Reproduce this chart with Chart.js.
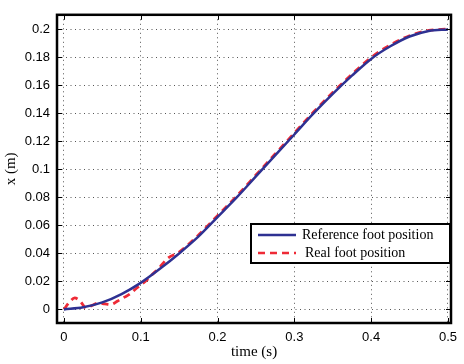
<!DOCTYPE html>
<html>
<head>
<meta charset="utf-8">
<script src="https://cdn.jsdelivr.net/npm/chart.js@4/dist/chart.umd.min.js"></script>
<style>
  html, body { margin: 0; padding: 0; background: #fff; }
  #wrap { width: 464px; height: 364px; }
</style>
</head>
<body>
<div id="wrap"><canvas id="c" width="464" height="364"></canvas></div>
<script>
// values
var refTime = [0, 0.025, 0.05, 0.075, 0.1, 0.125, 0.15, 0.175, 0.2, 0.225, 0.25,
               0.275, 0.3, 0.325, 0.35, 0.375, 0.4, 0.425, 0.45, 0.475, 0.5];
var refPos  = [0, 0.0015, 0.005, 0.011, 0.019, 0.029, 0.040, 0.052, 0.066, 0.080, 0.095,
               0.110, 0.125, 0.140, 0.154, 0.167, 0.179, 0.188, 0.195, 0.199, 0.200];

var realTime = [0, 0.007, 0.014, 0.021, 0.029, 0.037, 0.045, 0.053, 0.061, 0.07, 0.078,
                0.086, 0.093, 0.1, 0.108, 0.115, 0.123, 0.135, 0.15, 0.175, 0.2, 0.225,
                0.25, 0.275, 0.3, 0.325, 0.35, 0.375, 0.4, 0.425, 0.45, 0.475, 0.5];
var realPos  = [0, 0.005, 0.0082, 0.006, 0.001, 0.003, 0.0045, 0.004, 0.0035, 0.006, 0.0085,
                0.011, 0.0144, 0.0175, 0.021, 0.025, 0.029, 0.0365, 0.041, 0.053, 0.067, 0.081,
                0.096, 0.111, 0.126, 0.141, 0.155, 0.168, 0.180, 0.189, 0.1955, 0.1993, 0.2003];

var xTicks = [0, 0.1, 0.2, 0.3, 0.4, 0.5];
var yTicks = [0, 0.02, 0.04, 0.06, 0.08, 0.1, 0.12, 0.14, 0.16, 0.18, 0.2];

var seriesNames = ["Reference foot position", "Real foot position"];

function pts(xs, ys){
    var out = [];
    for(var i=0; i<xs.length; i++) out.push({x: xs[i], y: ys[i]});
    return out;
}

var blue = "#2e3192";
var red  = "#ee2a36";

// box, inner ticks, legend (matlab look)
var matlabBox = {
    id: 'matlabBox',
    afterDatasetsDraw(chart){
        var ctx = chart.ctx, a = chart.chartArea;
        var xs = chart.scales.x, ys = chart.scales.y;
        ctx.save();
        ctx.strokeStyle = "#000";
        ctx.lineWidth = 1;
        xTicks.forEach(function(v){
            var px = Math.round(xs.getPixelForValue(v)) + 0.5;
            ctx.beginPath();
            ctx.moveTo(px, a.bottom); ctx.lineTo(px, a.bottom - 5);
            ctx.moveTo(px, a.top); ctx.lineTo(px, a.top + 5);
            ctx.stroke();
        });
        yTicks.forEach(function(v){
            var py = Math.round(ys.getPixelForValue(v)) + 0.5;
            ctx.beginPath();
            ctx.moveTo(a.left, py); ctx.lineTo(a.left + 5, py);
            ctx.moveTo(a.right, py); ctx.lineTo(a.right - 5, py);
            ctx.stroke();
        });
        ctx.lineWidth = 2.5;
        ctx.strokeRect(a.left, a.top, a.right - a.left, a.bottom - a.top);

        // legend
        var lx = 251, ly = 224, lw = 199, lh = 39;
        ctx.fillStyle = "#fff";
        ctx.fillRect(lx, ly, lw, lh);
        ctx.lineWidth = 2;
        ctx.strokeRect(lx, ly, lw, lh);
        ctx.font = "14px 'Liberation Serif'";
        ctx.textBaseline = "middle";
        ctx.textAlign = "left";
        var rows = [ly + 11, ly + 29];
        chart.data.datasets.forEach(function(ds, i){
            ctx.strokeStyle = ds.borderColor;
            ctx.lineWidth = 2.5;
            ctx.setLineDash(ds.borderDash || []);
            ctx.beginPath();
            ctx.moveTo(lx + 7, rows[i]); ctx.lineTo(lx + 45, rows[i]);
            ctx.stroke();
            ctx.setLineDash([]);
            ctx.fillStyle = "#000";
            ctx.fillText(ds.label, lx + 51 + (i == 1 ? 3 : 0), rows[i]);
        });
        ctx.restore();
    }
};

var ctx = document.getElementById("c").getContext("2d");
var myChart = new Chart(ctx, {
    type: 'scatter',
    data: {
        datasets: [
            {
                label: seriesNames[0],
                data: pts(refTime, refPos),
                showLine: true,
                borderColor: blue,
                borderWidth: 2.5,
                pointRadius: 0,
                cubicInterpolationMode: 'monotone'
            },
            {
                label: seriesNames[1],
                data: pts(realTime, realPos),
                showLine: true,
                borderColor: red,
                borderWidth: 2.8,
                borderDash: [7, 5],
                pointRadius: 0,
                cubicInterpolationMode: 'monotone'
            }
        ]
    },
    options: {
        responsive: false,
        animation: false,
        layout: { padding: { top: 4, right: 4, left: 0, bottom: 0 } },
        plugins: {
            legend: { display: false },
            tooltip: { enabled: false }
        },
        scales: {
            x: {
                type: 'linear',
                min: -0.009,
                max: 0.504,
                afterBuildTicks: function(s){ s.ticks = xTicks.map(function(v){ return {value: v}; }); },
                afterFit: function(s){ s.height = 41; },
                border: { display: false, dash: [1, 3.5] },
                grid: { color: "#555", lineWidth: 1, drawTicks: false },
                ticks: {
                    padding: 7,
                    color: "#000",
                    font: { family: "'Liberation Sans'", size: 13 },
                    callback: function(v){ return String(v); }
                },
                title: {
                    display: true,
                    text: "time (s)",
                    color: "#000",
                    font: { family: "'Liberation Serif'", size: 15 },
                    padding: { top: 0, bottom: 3 }
                }
            },
            y: {
                type: 'linear',
                min: -0.0097,
                max: 0.2105,
                afterBuildTicks: function(s){ s.ticks = yTicks.map(function(v){ return {value: v}; }); },
                afterFit: function(s){ s.width = 57; },
                border: { display: false, dash: [1, 3.5] },
                grid: { color: "#555", lineWidth: 1, drawTicks: false },
                ticks: {
                    padding: 7,
                    color: "#000",
                    font: { family: "'Liberation Sans'", size: 13 },
                    callback: function(v){ return String(v); }
                },
                title: {
                    display: true,
                    text: "x (m)",
                    color: "#000",
                    font: { family: "'Liberation Serif'", size: 15 },
                    padding: { top: 2, bottom: 0 }
                }
            }
        }
    },
    plugins: [matlabBox]
});
</script>
</body>
</html>
